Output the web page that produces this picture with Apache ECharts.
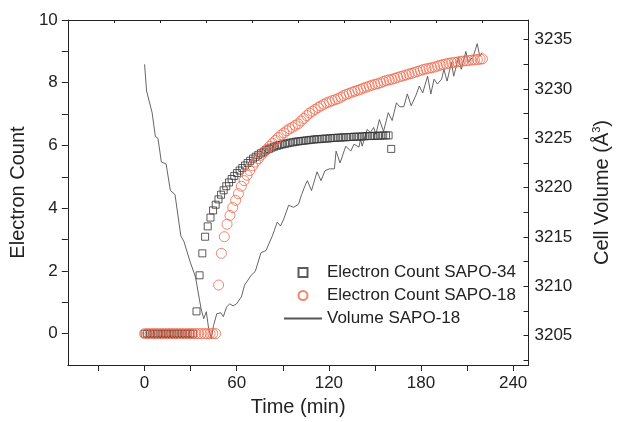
<!DOCTYPE html>
<html>
<head>
<meta charset="utf-8">
<script src="https://cdn.jsdelivr.net/npm/echarts@6/dist/echarts.min.js"></script>
<style>
html,body{margin:0;padding:0;background:#fff;}
#chart{width:620px;height:422px;}
</style>
</head>
<body>
<div id="chart"></div>
<script>
// ---- data ----
var xTickValues = [-30, 0, 30, 60, 90, 120, 150, 180, 210, 240];
var xLabelValues = [0, 60, 120, 180, 240];
var yLeftTickValues = [0, 1, 2, 3, 4, 5, 6, 7, 8, 9, 10];
var yLeftLabelValues = [0, 2, 4, 6, 8, 10];
var yRightTickValues = [3202.5, 3205, 3207.5, 3210, 3212.5, 3215, 3217.5, 3220, 3222.5, 3225, 3227.5, 3230, 3232.5, 3235];
var yRightLabelValues = [3205, 3210, 3215, 3220, 3225, 3230, 3235];

var sapo34Time = [0,1.7,3.5,5.2,7.0,8.7,10.5,12.2,14.0,15.7,17.5,19.2,21.0,22.7,24.5,26.2,28.0,29.7,31.5,
  33.8,35.8,37.6,39.4,41.1,42.9,44.6,46.3,48.1,49.8,51.5,53.2,55.0,56.7,58.4,60.2,61.9,63.6,65.4,67.1,
  68.8,70.6,72.3,74.0,75.8,77.5,79.2,81.0,82.7,84.4,86.2,87.9,89.6,91.4,93.1,94.8,96.6,98.3,100.0,
  101.7,103.4,105.2,106.9,108.6,110.4,112.1,113.8,115.6,117.3,119.0,120.8,122.5,124.2,126.0,127.7,129.4,
  131.2,132.9,134.6,136.4,138.1,139.8,141.6,143.3,145.0,146.8,148.5,150.2,152.0,153.7,155.4,157.2,158.9,160.6];
var sapo34Count = [0,0,0,0,0,0,0,0,0,0,0,0,0,0,0,0,0,0,0,
  0.71,1.86,2.56,3.09,3.42,3.70,3.93,4.11,4.28,4.43,4.57,4.70,4.82,4.93,5.03,5.12,5.20,5.28,5.36,5.44,
  5.51,5.58,5.64,5.70,5.75,5.80,5.85,5.89,5.93,5.96,5.99,6.01,6.03,6.05,6.07,6.09,6.10,6.12,6.13,
  6.14,6.15,6.16,6.17,6.18,6.19,6.20,6.20,6.21,6.22,6.22,6.23,6.24,6.24,6.25,6.25,6.26,
  6.26,6.27,6.27,6.28,6.28,6.28,6.29,6.29,6.30,6.30,6.30,6.31,6.31,6.31,6.32,6.32,6.32,5.89];

var sapo18Time = [0,1.9,3.7,5.6,7.4,9.3,11.1,13.0,14.8,16.7,18.5,20.4,22.2,24.1,25.9,27.8,29.6,31.5,33.3,35.2,37.0,38.9,40.7,42.6,44.4,46.3,
  48.2,50.0,51.9,53.7,55.6,57.4,59.3,61.1,63.0,64.8,66.7,68.5,70.4,72.2,74.1,75.9,77.8,79.6,81.5,83.3,85.2,87.0,88.9,90.7,
  92.6,94.4,96.3,98.1,100.0,101.9,103.7,105.6,107.4,109.3,111.1,113.0,114.8,116.7,118.5,120.4,122.2,124.1,125.9,127.8,
  129.6,131.5,133.3,135.2,137.0,138.9,140.7,142.6,144.4,146.3,148.1,150.0,151.9,153.7,155.6,157.4,159.3,161.1,163.0,164.8,
  166.7,168.5,170.4,172.2,174.1,175.9,177.8,179.6,181.5,183.3,185.2,187.0,188.9,190.7,192.6,194.4,196.3,198.1,200.0,201.9,
  203.7,205.6,207.4,209.3,211.1,213.0,214.8,216.7,218.5,220.0];
var sapo18Count = [0,0,0,0,0,0,0,0,0,0,0,0,0,0,0,0,0,0,0,0,0,0,0,0,0,0,
  1.55,2.56,3.09,3.49,3.77,4.02,4.25,4.46,4.70,4.88,5.05,5.20,5.35,5.47,5.58,5.69,5.79,5.88,5.98,6.07,6.16,6.25,6.33,6.40,
  6.47,6.53,6.58,6.64,6.69,6.78,6.86,6.95,7.03,7.09,7.15,7.21,7.26,7.31,7.36,7.39,7.43,7.46,7.49,7.54,
  7.59,7.63,7.66,7.70,7.73,7.76,7.79,7.83,7.86,7.89,7.92,7.95,7.97,8.00,8.04,8.07,8.09,8.11,8.14,8.17,
  8.20,8.22,8.25,8.28,8.30,8.33,8.36,8.39,8.42,8.44,8.46,8.48,8.50,8.53,8.56,8.58,8.60,8.62,8.64,8.65,
  8.66,8.68,8.69,8.70,8.71,8.72,8.73,8.74,8.75,8.76];

var volumeTime = [0,1.3,4.9,7.0,8.7,10.9,14.0,16.8,19.8,23.6,25.7,29.6,33.2,35.3,36.8,38.5,40.2,41.7,43.4,44.9,
  47.0,49.6,51.3,53.4,55.5,57.6,59.8,63.0,65.1,69.4,72.1,75.8,79.0,83.2,86.4,88.5,90.6,93.8,97.0,100.2,
  102.3,104.5,106.0,108.7,112.3,114.9,117.4,120.4,123.6,124.7,127.3,131.0,134.2,136.4,139.6,140.6,141.7,144.9,147.0,149.2,
  150.6,152.9,155.6,158.7,161.2,164.0,166.2,168.8,171.1,173.6,176.8,178.9,181.1,184.3,186.4,188.5,190.7,193.4,194.9,197.0,
  199.8,201.3,204.4,206.2,209.2,210.8,214.0,216.6,218.3,219.8];
var volumeValue = [3232.5,3229.8,3227.6,3225.2,3225.0,3222.6,3222.4,3219.7,3219.3,3215.1,3214.5,3212.5,3210.9,3209.0,3207.7,3206.7,3207.4,3205.7,3204.7,3206.0,
  3207.2,3207.3,3206.9,3207.9,3208.2,3208.0,3208.2,3208.9,3210.1,3211.1,3211.5,3213.4,3213.6,3215.1,3216.5,3216.1,3216.8,3218.2,3218.0,3218.3,
  3219.3,3220.2,3220.7,3219.7,3221.6,3220.7,3221.7,3221.9,3221.9,3223.7,3222.5,3224.2,3223.7,3224.4,3224.1,3224.9,3224.2,3225.9,3225.6,3226.1,
  3225.4,3226.9,3225.7,3227.6,3226.8,3228.6,3228.2,3228.2,3229.5,3228.3,3229.4,3230.3,3229.6,3231.3,3229.5,3231.0,3230.5,3231.0,3232.0,3230.8,
  3232.7,3231.3,3233.2,3232.0,3233.8,3232.7,3233.3,3234.6,3233.3,3233.7];

function zip(a, b) {
  var n = Math.min(a.length, b.length), out = [];
  for (var i = 0; i < n; i++) out.push([a[i], b[i]]);
  return out;
}

var FONT = '"Liberation Sans", Arial, Helvetica, sans-serif';
var AXIS = '#222';
var SQUARE = 'path://M0,0L10,0L10,10L0,10Z';
var chart = echarts.init(document.getElementById('chart'), null, {renderer: 'canvas'});

chart.setOption({
  animation: false,
  backgroundColor: '#fff',
  textStyle: {fontFamily: FONT},
  grid: {left: 65, right: 85, top: 20, bottom: 56, containLabel: false},
  legend: {
    orient: 'vertical',
    left: 283,
    top: 264,
    padding: 0,
    itemWidth: 38,
    itemHeight: 9,
    itemGap: 6,
    itemTextGap: 5,
    symbolKeepAspect: true,
    textStyle: {fontFamily: FONT, fontSize: 17, color: '#222'},
    data: [
      {name: 'Electron Count SAPO-34', icon: SQUARE},
      {name: 'Electron Count SAPO-18', icon: 'circle'},
      {name: 'Volume SAPO-18', itemStyle: {opacity: 0}}
    ]
  },
  xAxis: [{
    type: 'value', position: 'bottom', min: -50, max: 250,
    name: 'Time (min)', nameLocation: 'middle', nameGap: 32,
    nameTextStyle: {fontFamily: FONT, fontSize: 20, color: '#222'},
    axisLine: {show: true, onZero: false, lineStyle: {color: AXIS, width: 1}},
    axisTick: {show: true, inside: false, length: 6, customValues: xTickValues, lineStyle: {color: AXIS}},
    axisLabel: {show: true, margin: 10, customValues: xLabelValues, fontFamily: FONT, fontSize: 17, color: '#222'},
    splitLine: {show: false}
  }, {
    type: 'value', position: 'top', min: -50, max: 250, interval: 30,
    axisLine: {show: true, onZero: false, lineStyle: {color: AXIS, width: 1}},
    axisTick: {show: true, inside: true, length: 3, lineStyle: {color: AXIS}},
    axisLabel: {show: false},
    splitLine: {show: false}
  }],
  yAxis: [{
    type: 'value', position: 'left', min: -1, max: 10,
    name: 'Electron Count', nameLocation: 'middle', nameGap: 39, nameRotate: 90,
    nameTextStyle: {fontFamily: FONT, fontSize: 20, color: '#222'},
    axisLine: {show: true, onZero: false, lineStyle: {color: AXIS, width: 1}},
    axisTick: {show: true, inside: false, length: 6, customValues: yLeftTickValues, lineStyle: {color: AXIS}},
    axisLabel: {show: true, margin: 10, customValues: yLeftLabelValues, fontFamily: FONT, fontSize: 17, color: '#222'},
    splitLine: {show: false}
  }, {
    type: 'value', position: 'right', min: 3202, max: 3237,
    name: 'Cell Volume (Å{sup|3})', nameLocation: 'middle', nameGap: 63, nameRotate: 90,
    nameTextStyle: {fontFamily: FONT, fontSize: 20, color: '#222',
      rich: {sup: {fontFamily: FONT, fontSize: 11, color: '#222', verticalAlign: 'top', padding: [0, 0, 10, 0]}}},
    axisLine: {show: true, onZero: false, lineStyle: {color: AXIS, width: 1}},
    axisTick: {show: true, inside: true, length: 5, customValues: yRightTickValues, lineStyle: {color: AXIS}},
    axisLabel: {show: true, margin: 6, customValues: yRightLabelValues, fontFamily: FONT, fontSize: 17, color: '#222',
      formatter: function (v) { return String(Math.round(v)); }},
    splitLine: {show: false}
  }],
  series: [{
    name: 'Volume SAPO-18', type: 'line', xAxisIndex: 0, yAxisIndex: 1,
    data: zip(volumeTime, volumeValue),
    symbol: 'none', showSymbol: false,
    lineStyle: {color: '#555', width: 0.9},
    itemStyle: {color: '#555'},
    z: 1
  }, {
    name: 'Electron Count SAPO-34', type: 'scatter', xAxisIndex: 0, yAxisIndex: 0,
    data: zip(sapo34Time, sapo34Count),
    symbol: 'rect', symbolSize: 7,
    itemStyle: {color: 'rgba(255,255,255,0)', borderColor: '#333', borderWidth: 1},
    z: 2
  }, {
    name: 'Electron Count SAPO-18', type: 'scatter', xAxisIndex: 0, yAxisIndex: 0,
    data: zip(sapo18Time, sapo18Count),
    symbol: 'circle', symbolSize: 10,
    itemStyle: {color: 'rgba(255,255,255,0)', borderColor: '#F0684A', borderWidth: 1},
    z: 3
  }]
});
</script>
</body>
</html>
